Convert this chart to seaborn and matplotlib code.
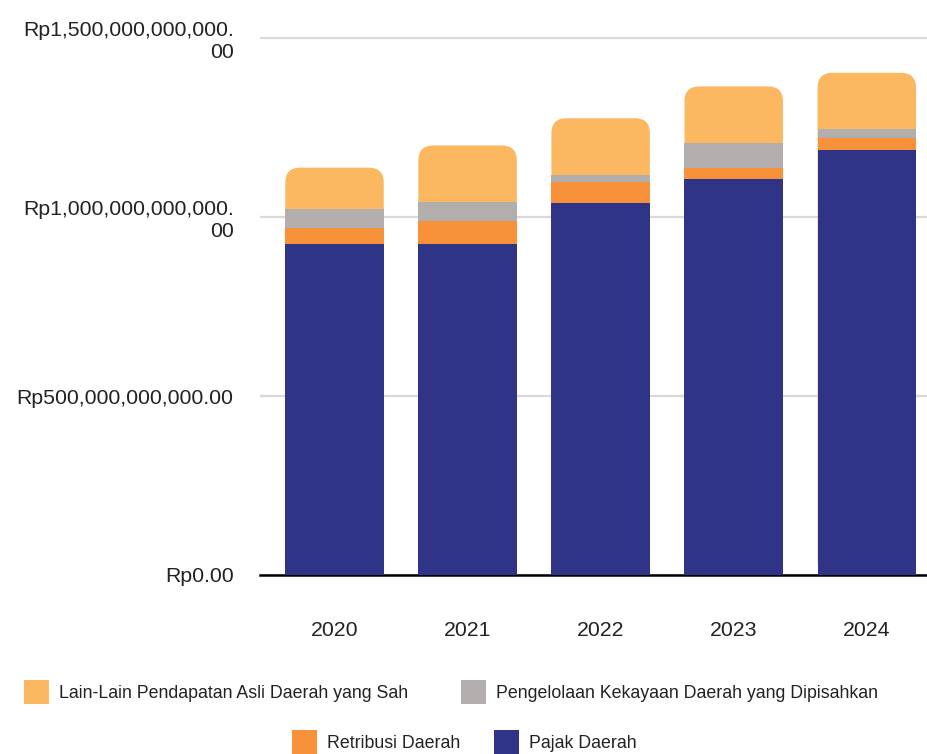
import numpy as np
import pandas as pd
import seaborn as sns
import matplotlib
matplotlib.use("Agg")
import matplotlib.pyplot as plt
from matplotlib.patches import FancyBboxPatch, Patch

years = ["2020", "2021", "2022", "2023", "2024"]
pajak = [925e9, 925e9, 1039e9, 1105e9, 1188e9]
retribusi = [44e9, 63e9, 59e9, 33e9, 34e9]
pengelolaan = [54e9, 53e9, 19e9, 69e9, 24e9]
lain = [115e9, 159e9, 159e9, 158e9, 157e9]

series_names = ["Lain-Lain Pendapatan Asli Daerah yang Sah",
                "Pengelolaan Kekayaan Daerah yang Dipisahkan",
                "Retribusi Daerah", "Pajak Daerah"]
colors = ["#FBB860", "#B2AEAE", "#F7923B", "#2F3487"]
ytick_vals = [0, 500e9, 1000e9, 1500e9]
ytick_labels = ["Rp0.00", "Rp500,000,000,000.00",
                "Rp1,000,000,000,000.\n00", "Rp1,500,000,000,000.\n00"]

sns.set_theme(style="white")
plt.rcParams['font.family'] = ['Liberation Sans', 'DejaVu Sans']

W, H = 928, 754
fig = plt.figure(figsize=(W / 100, H / 100), dpi=100)
ax_l, ax_r, ax_t, ax_b = 260, 928, 37, 575
ax = fig.add_axes([ax_l / W, (H - ax_b) / H, (ax_r - ax_l) / W, (ax_b - ax_t) / H])

df = pd.DataFrame({"year": years, "pajak": pajak, "retribusi": retribusi,
                   "pengelolaan": pengelolaan, "lain": lain})
df["c1"] = df["pajak"]
df["c2"] = df["c1"] + df["retribusi"]
df["c3"] = df["c2"] + df["pengelolaan"]
df["c4"] = df["c3"] + df["lain"]

for col_name, col in zip(["c4", "c3", "c2", "c1"], colors):
    sns.barplot(data=df, x="year", y=col_name, color=col, width=0.74,
                saturation=1, linewidth=0, ax=ax, zorder=3)

xlim = (-0.56, 4.46)
ylim = (0, 1500e9 * 1.002)
ax.set_xlim(*xlim)
ax.set_ylim(*ylim)

# rounded top for the stack's top segment
x_per_px = (xlim[1] - xlim[0]) / (ax_r - ax_l)
y_per_px = (ylim[1] - ylim[0]) / (ax_b - ax_t)
r_px = 15
for p in list(ax.containers[0].patches):
    x, y, w, h = p.get_x(), p.get_y(), p.get_width(), p.get_height()
    p.remove()
    fb = FancyBboxPatch((x, y), w, h,
                        boxstyle=f"round,pad=0,rounding_size={r_px * x_per_px}",
                        mutation_aspect=y_per_px / x_per_px,
                        facecolor=colors[0], linewidth=0, zorder=2.9)
    ax.add_patch(fb)

ax.set_yticks(ytick_vals)
ax.set_yticklabels(ytick_labels, fontsize=15.3, color="#222222")
ax.tick_params(axis="y", length=0, pad=19)
ax.tick_params(axis="x", length=0, pad=33, labelsize=15.3, labelcolor="#222222")
ax.set_xlabel("")
ax.set_ylabel("")
for lab in ax.get_yticklabels():
    lab.set_multialignment("right")

ax.grid(axis="y", color="#D9D9D9", linewidth=1.6)
ax.grid(axis="x", visible=False)
ax.set_axisbelow(True)
for s in ["top", "right", "left"]:
    ax.spines[s].set_visible(False)
ax.spines["bottom"].set_color("black")
ax.spines["bottom"].set_linewidth(1.8)
ax.spines["bottom"].set_zorder(2.5)

fs_leg = 12.8
fs_px = fs_leg * 100 / 72
leg_font = {"family": ["Liberation Sans"], "size": fs_leg}
h_all = [Patch(facecolor=c, edgecolor="none") for c in colors]
common = dict(loc="center", ncol=2, frameon=False, prop=leg_font,
              handlelength=25 / fs_px, handleheight=31 / fs_px,
              handletextpad=10 / fs_px, borderpad=0, borderaxespad=0)
leg1 = fig.legend(h_all[:2], series_names[:2],
                  bbox_to_anchor=(451 / W, (H - 692) / H),
                  columnspacing=52 / fs_px, **common)
leg2 = fig.legend(h_all[2:], series_names[2:],
                  bbox_to_anchor=(464 / W, (H - 742) / H),
                  columnspacing=34 / fs_px, **common)
for lg in (leg1, leg2):
    for t in lg.get_texts():
        t.set_color("#222222")

fig.savefig("out.png", dpi=100)
